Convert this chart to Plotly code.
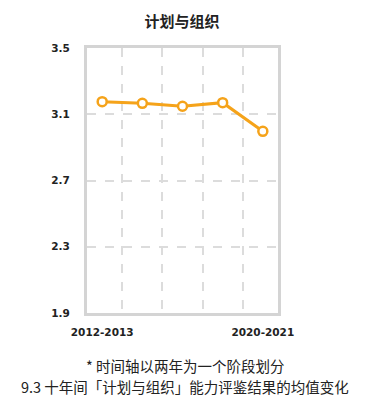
import plotly.graph_objects as go

periods = ["2012-2013", "2014-2015", "2016-2017", "2018-2019", "2020-2021"]
tick_text = ["2012-2013", "", "", "", "2020-2021"]
values = [3.176, 3.166, 3.148, 3.170, 2.997]
y_ticks = [1.9, 2.3, 2.7, 3.1, 3.5]

ORANGE = "#F5A31A"
GRID = "#DCDCDC"
TEXT = "#222222"
FONT = "Noto Sans CJK SC"

# page body has an 8px margin; figure sized to fit inside the 379x406 window
OFF = 8
W, H = 379 - 2 * OFF, 406 - 2 * OFF
L, T = 87 - OFF, 48 - OFF
R = W - (278 - OFF)
B = H - (313 - OFF)
plot_h = H - T - B
plot_w = W - L - R

def px_to_paper_x(px):
    return (px - OFF - L) / plot_w

def px_to_paper_y(py):
    return (H - B - (py - OFF)) / plot_h

fig = go.Figure()
fig.add_trace(go.Scatter(
    x=periods, y=values, mode="lines+markers",
    line=dict(color=ORANGE, width=3),
    marker=dict(symbol="circle", size=9, color="white",
                line=dict(color=ORANGE, width=2.5)),
    hoverinfo="skip", showlegend=False,
))

fig.update_layout(
    width=W, height=H,
    margin=dict(l=L, r=R, t=T, b=B, autoexpand=False),
    paper_bgcolor="white", plot_bgcolor="white",
    font=dict(family=FONT, color=TEXT),
    title=dict(text="计划与组织", x=(182 - OFF) / W, xanchor="center",
               y=1 - (22 - OFF) / H, yanchor="middle",
               xref="container", yref="container",
               font=dict(size=15, family=FONT, weight="bold", color=TEXT)),
    xaxis=dict(
        type="category", categoryorder="array", categoryarray=periods,
        tickvals=periods, ticktext=tick_text, tickson="boundaries",
        showgrid=True, gridcolor=GRID, griddash="dash", gridwidth=1.5,
        showline=True, linecolor="#D4D4D4", linewidth=3, mirror=True,
        ticks="", ticklabelstandoff=7, tickangle=0, automargin=False,
        tickfont=dict(size=10.5, family="DejaVu Sans", weight="bold", color=TEXT),
        fixedrange=True,
    ),
    yaxis=dict(
        range=[1.9, 3.5], tickvals=y_ticks, ticktext=[str(v) for v in y_ticks],
        showgrid=True, gridcolor=GRID, griddash="dash", gridwidth=1.5,
        showline=True, linecolor="#D4D4D4", linewidth=3, mirror=True,
        zeroline=False, ticks="", ticklabelstandoff=12, automargin=False,
        tickfont=dict(size=10.5, family="DejaVu Sans", weight="bold", color=TEXT),
        fixedrange=True,
    ),
    annotations=[
        dict(text="* 时间轴以两年为一个阶段划分", xref="paper", yref="paper",
             x=px_to_paper_x(185), y=px_to_paper_y(365), xanchor="center", yanchor="middle",
             showarrow=False, font=dict(size=14.5, family=FONT, color=TEXT)),
        dict(text="9.3 十年间「计划与组织」能力评鉴结果的均值变化", xref="paper", yref="paper",
             x=px_to_paper_x(185), y=px_to_paper_y(386), xanchor="center", yanchor="middle",
             showarrow=False, font=dict(size=14.5, family=FONT, color=TEXT)),
    ],
)

fig.write_html("out.html", config={"displayModeBar": False})
